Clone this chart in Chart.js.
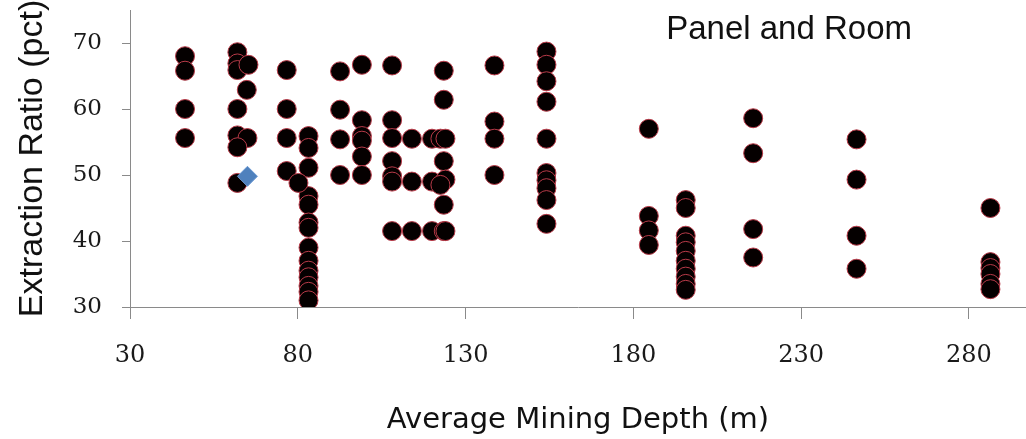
<!DOCTYPE html>
<html>
<head>
<meta charset="utf-8">
<script src="https://cdn.jsdelivr.net/npm/chart.js@4/dist/chart.umd.min.js"></script>
<style>
  html, body { margin: 0; padding: 0; background: #ffffff; }
  #wrap { width: 1026px; height: 439px; position: relative; }
</style>
</head>
<body>
<div id="wrap"><canvas id="chart" width="1026" height="439"></canvas></div>
<script>
// Panel and room mines: average mining depth (m) against extraction ratio (pct)
const depth = [
  46.4, 46.4, 46.4, 46.4,
  62.0, 62.0, 62.0, 65.3, 64.8, 62.0, 62.0, 65.0, 62.0, 62.0,
  76.7, 76.7, 76.7, 76.7,
  83.2, 83.2, 83.2, 83.2, 83.2, 83.2, 83.2, 83.2, 83.2, 83.2, 83.2, 83.2, 83.2, 83.2, 80.2,
  92.6, 92.6, 92.6, 92.6,
  99.1, 99.1, 99.1, 99.1, 99.1, 99.1,
  108.1, 108.1, 108.1, 108.1, 108.1, 108.1, 108.1,
  114.0, 114.0, 114.0,
  120.0, 120.0, 120.0,
  123.5, 123.5, 122.5, 124.0, 123.5, 124.0, 122.5, 123.5, 123.5, 124.0,
  138.6, 138.6, 138.6, 138.6,
  154.1, 154.1, 154.1, 154.1, 154.1, 154.1, 154.1, 154.1, 154.1, 154.1,
  184.6, 184.6, 184.6, 184.6,
  195.6, 195.6, 195.6, 195.6, 195.6, 195.6, 195.6, 195.6, 195.6, 195.6,
  215.7, 215.7, 215.7, 215.7,
  246.5, 246.5, 246.5, 246.5,
  286.4, 286.4, 286.4, 286.4, 286.4, 286.4
];
const ratio = [
  68.0, 65.8, 60.0, 55.6,
  68.6, 66.9, 65.9, 66.7, 62.9, 60.0, 56.0, 55.6, 54.2, 48.8,
  65.9, 60.0, 55.6, 50.6,
  55.9, 54.1, 51.1, 46.8, 45.5, 42.8, 42.0, 39.0, 37.0, 35.5, 34.5, 33.2, 32.3, 31.0, 48.8,
  65.7, 59.9, 55.4, 50.0,
  66.7, 58.3, 55.9, 55.2, 52.8, 50.0,
  66.6, 58.3, 55.6, 52.1, 49.8, 49.0, 41.5,
  55.5, 49.0, 41.5,
  55.5, 49.0, 41.5,
  65.8, 61.4, 55.5, 55.5, 52.1, 49.3, 48.5, 45.5, 41.5, 41.5,
  66.6, 58.1, 55.5, 50.0,
  68.7, 66.7, 64.2, 61.1, 55.5, 50.3, 49.2, 48.0, 46.2, 42.6,
  57.0, 43.8, 41.6, 39.4,
  46.2, 45.0, 40.8, 39.8, 38.5, 37.0, 35.8, 34.6, 33.5, 32.6,
  58.6, 53.3, 41.8, 37.5,
  55.4, 49.3, 40.8, 35.8,
  45.0, 36.8, 35.9, 35.0, 33.5, 32.7
];
// single highlighted case
const caseDepth = [65.0];
const caseRatio = [49.8];

const xTicks = [30, 80, 130, 180, 230, 280];
const yTicks = [30, 40, 50, 60, 70];

const panelLabel = 'Panel and Room';

const minePoints = depth.map((d, i) => ({ x: d, y: ratio[i] }));
const casePoints = caseDepth.map((d, i) => ({ x: d, y: caseRatio[i] }));

const panelLabelPlugin = {
  id: 'panelLabel',
  afterDraw(chart) {
    const { ctx, chartArea } = chart;
    ctx.save();
    ctx.font = '33px "Liberation Sans", Arial, sans-serif';
    ctx.fillStyle = '#111111';
    ctx.textAlign = 'right';
    ctx.textBaseline = 'alphabetic';
    ctx.fillText(panelLabel, chartArea.right - 114, chartArea.top + 29);
    ctx.restore();
  }
};

// keep the plot frame fixed: no extra room reserved for edge tick labels
function clearEdgePadding(scale) {
  scale.paddingTop = 0;
  scale.paddingBottom = 0;
  scale.paddingLeft = 0;
  scale.paddingRight = 0;
}

const axisGray = '#8a8a8a';

new Chart(document.getElementById('chart'), {
  type: 'scatter',
  data: {
    datasets: [
      {
        label: 'Case',
        data: casePoints,
        pointStyle: 'rectRot',
        pointRadius: 10,
        pointHoverRadius: 10,
        backgroundColor: '#4f81bd',
        borderColor: '#6e9bd3',
        borderWidth: 1
      },
      {
        label: 'Panel and Room',
        data: minePoints,
        pointStyle: 'circle',
        pointRadius: 9.5,
        pointHoverRadius: 9.5,
        backgroundColor: '#050000',
        borderColor: '#b83a48',
        borderWidth: 1
      }
    ]
  },
  options: {
    responsive: false,
    animation: false,
    layout: { autoPadding: false, padding: { top: 10, right: 0, bottom: 0, left: 0 } },
    plugins: {
      legend: { display: false },
      title: { display: false },
      tooltip: { enabled: false }
    },
    scales: {
      x: {
        type: 'linear',
        min: 30,
        max: 297,
        afterFit(scale) { scale.height = 132; clearEdgePadding(scale); },
        afterBuildTicks(scale) { scale.ticks = xTicks.map(v => ({ value: v })); },
        border: { display: true, color: axisGray, width: 1 },
        grid: { display: true, drawOnChartArea: false, drawTicks: true, tickLength: 12, color: axisGray },
        ticks: {
          padding: 22,
          color: '#1a1a1a',
          font: { family: '"DejaVu Serif", serif', size: 24 },
          maxRotation: 0
        },
        title: {
          display: true,
          text: 'Average Mining Depth (m)',
          color: '#111111',
          font: { family: '"DejaVu Sans", sans-serif', size: 29 },
          padding: { top: 0, bottom: 1 }
        }
      },
      y: {
        type: 'linear',
        min: 30,
        max: 75,
        afterFit(scale) { scale.width = 130; clearEdgePadding(scale); },
        afterBuildTicks(scale) { scale.ticks = yTicks.map(v => ({ value: v })); },
        border: { display: true, color: axisGray, width: 1 },
        grid: { display: true, drawOnChartArea: false, drawTicks: true, tickLength: 8, color: axisGray },
        ticks: {
          padding: 20,
          color: '#1a1a1a',
          font: { family: '"DejaVu Serif", serif', size: 23 }
        },
        title: {
          display: true,
          text: 'Extraction Ratio (pct)',
          color: '#111111',
          font: { family: '"Liberation Sans", Arial, sans-serif', size: 34 },
          padding: { top: 12, bottom: 0 }
        }
      }
    }
  },
  plugins: [panelLabelPlugin]
});
</script>
</body>
</html>
